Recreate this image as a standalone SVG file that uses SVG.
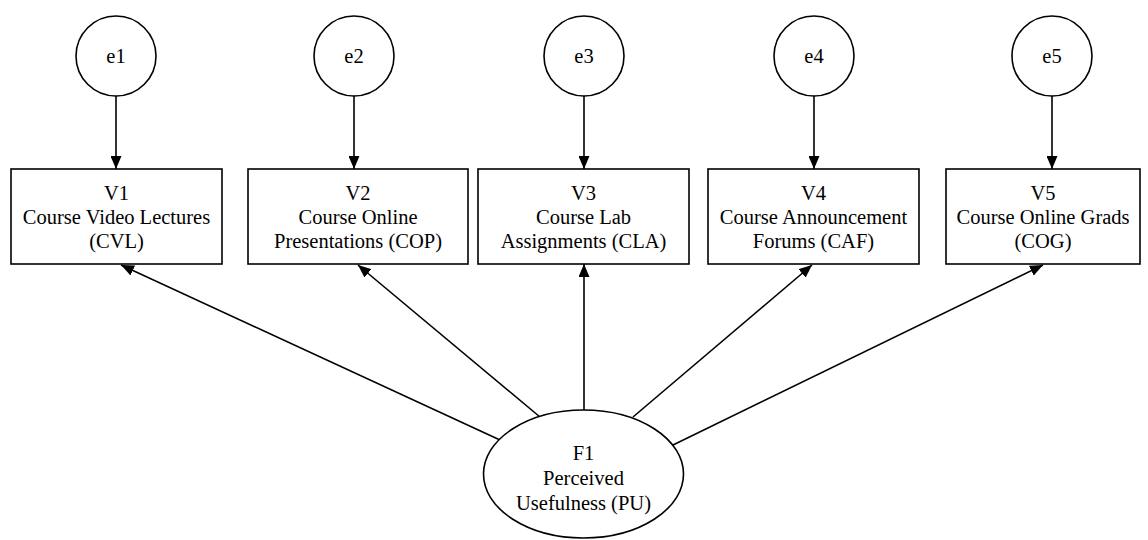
<svg xmlns="http://www.w3.org/2000/svg" width="1148" height="540" viewBox="0 0 1148 540">
<style>
.shape{fill:#fff;stroke:#000;stroke-width:1.6}
.edge{stroke:#000;stroke-width:1.6;fill:none;marker-end:url(#ah)}
</style>
<defs>
<marker id="ah" viewBox="0 0 13 11" refX="13" refY="5.5" markerWidth="13" markerHeight="11" orient="auto" markerUnits="userSpaceOnUse">
<path d="M0,0 L13,5.5 L0,11 Z" fill="#000"/>
</marker>
</defs>
<rect width="1148" height="540" fill="#fff"/>
<g id="connectors">
<line class="edge" x1="116" y1="96" x2="116" y2="169"/>
<line class="edge" x1="354" y1="96" x2="354" y2="169"/>
<line class="edge" x1="584" y1="96" x2="584" y2="169"/>
<line class="edge" x1="814" y1="96" x2="814" y2="169"/>
<line class="edge" x1="1052" y1="96" x2="1052" y2="169"/>
<line class="edge" x1="500" y1="440" x2="121" y2="265"/>
<line class="edge" x1="540" y1="417" x2="358" y2="265"/>
<line class="edge" x1="584" y1="410" x2="584" y2="264"/>
<line class="edge" x1="633" y1="417" x2="812" y2="265"/>
<line class="edge" x1="673" y1="445" x2="1043" y2="265"/>
</g>
<g font-family="'Liberation Serif'" font-size="20.5" text-anchor="middle" fill="#000">
<g id="e1"><circle class="shape" cx="116" cy="56" r="40"/><text x="116" y="63">e1</text></g>
<g id="e2"><circle class="shape" cx="354" cy="56" r="40"/><text x="354" y="63">e2</text></g>
<g id="e3"><circle class="shape" cx="584" cy="56" r="40"/><text x="584" y="63">e3</text></g>
<g id="e4"><circle class="shape" cx="814" cy="56" r="40"/><text x="814" y="63">e4</text></g>
<g id="e5"><circle class="shape" cx="1052" cy="56" r="40"/><text x="1052" y="63">e5</text></g>
<g id="V1"><rect class="shape" x="11" y="169" width="211" height="95"/>
<text x="116.5" y="200">V1</text><text x="116.5" y="224">Course Video Lectures</text><text x="116.5" y="248">(CVL)</text></g>
<g id="V2"><rect class="shape" x="248" y="169" width="220" height="95"/>
<text x="358" y="200">V2</text><text x="358" y="224">Course Online</text><text x="358" y="248">Presentations (COP)</text></g>
<g id="V3"><rect class="shape" x="478" y="169" width="211" height="95"/>
<text x="583.5" y="200">V3</text><text x="583.5" y="224">Course Lab</text><text x="583.5" y="248">Assignments (CLA)</text></g>
<g id="V4"><rect class="shape" x="708" y="169" width="211" height="95"/>
<text x="813.5" y="200">V4</text><text x="813.5" y="224">Course Announcement</text><text x="813.5" y="248">Forums (CAF)</text></g>
<g id="V5"><rect class="shape" x="946" y="169" width="194" height="95"/>
<text x="1043" y="200">V5</text><text x="1043" y="224">Course Online Grads</text><text x="1043" y="248">(COG)</text></g>
<g id="F1"><ellipse class="shape" cx="583.5" cy="474" rx="100" ry="64"/>
<text x="583.5" y="460">F1</text><text x="583.5" y="485">Perceived</text><text x="583.5" y="510">Usefulness (PU)</text></g>
</g>
</svg>
